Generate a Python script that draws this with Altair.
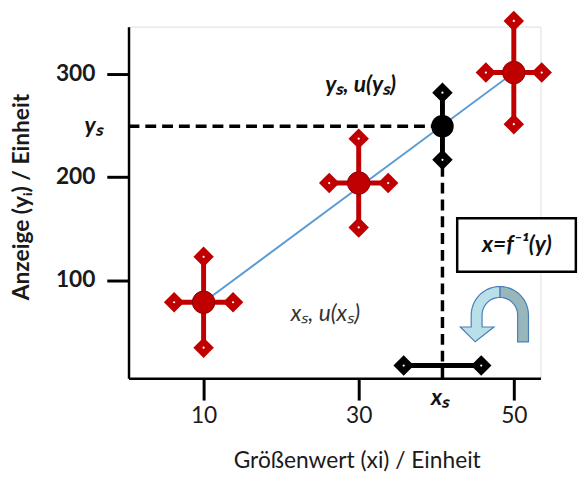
import math
import altair as alt
import pandas as pd

# ---------------- data ----------------
cal_x = [10, 30, 50]
cal_y = [78.5, 194, 301]
cal_xerr = [3.8, 3.8, 3.6]
cal_yerr = [44, 43, 50]

line_x = [10, 50]
line_y = [78.5, 301]

sample_x = [40.8]
sample_y = [249]
sample_yerr = [32.5]
sample_xerr = [5.0]
sample_xbar_y = [17.2]

x_ticks = [10, 30, 50]
y_ticks = [100, 200, 300]
x_domain = [0.32, 53.44]
y_domain = [4.8, 345.5]

# annotation texts and anchor positions (data units)
ann_text = ["yₛ, u(yₛ)", "xₛ, u(xₛ)", "x=f⁻¹(y)", "yₛ", "xₛ"]
ann_x = [30.25, 25.7, 50.4, -3.0, 40.5]
ann_y = [289, 67, 134, 249, -14.4]
box_x = [42.7, 58.0]
box_y = [108.1, 159.8]
arrow_pos = [48.2, 66]

RED = "#c00000"
FONT = "Lato"

xs = alt.Scale(domain=x_domain, nice=False, zero=False)
ys = alt.Scale(domain=y_domain, nice=False, zero=False)

x_axis = alt.Axis(values=x_ticks, title="Größenwert (xi) / Einheit", grid=False,
                  domainColor="black", domainWidth=2.5, tickColor="black", tickWidth=3,
                  tickSize=22, labelFont=FONT, labelFontSize=23, labelColor="#1a1a1a",
                  labelPadding=5, titleFont=FONT, titleFontSize=23, titleFontWeight="normal",
                  titleColor="#1a1a1a", titleX=231, titleY=90, titleBaseline="alphabetic",
                  titleAlign="center")
y_axis = alt.Axis(values=y_ticks, title="Anzeige (yᵢ) / Einheit", grid=False,
                  domainColor="black", domainWidth=2.5, tickColor="black", tickWidth=3,
                  tickSize=22, labelFont=FONT, labelFontSize=23, labelFontWeight="bold",
                  labelColor="#1a1a1a", labelPadding=12, titleFont=FONT, titleFontSize=23,
                  titleFontWeight="bold", titleColor="#1a1a1a", titleAngle=270,
                  titleX=-108, titleY=172, titleAlign="center", titleBaseline="middle")

# ---------------- tables ----------------
cal = pd.DataFrame({"x": cal_x, "y": cal_y, "xe": cal_xerr, "ye": cal_yerr})
cal["xlo"] = cal.x - cal.xe
cal["xhi"] = cal.x + cal.xe
cal["ylo"] = cal.y - cal.ye
cal["yhi"] = cal.y + cal.ye

ends = []
for _, r in cal.iterrows():
    ends += [{"x": r.x, "y": r.ylo}, {"x": r.x, "y": r.yhi},
             {"x": r.xlo, "y": r.y}, {"x": r.xhi, "y": r.y}]
ends = pd.DataFrame(ends)

smp = pd.DataFrame({"x": sample_x, "y": sample_y, "ye": sample_yerr,
                    "xe": sample_xerr, "by": sample_xbar_y})
smp["ylo"] = smp.y - smp.ye
smp["yhi"] = smp.y + smp.ye
smp["xlo"] = smp.x - smp.xe
smp["xhi"] = smp.x + smp.xe
smp["x0"] = x_domain[0]
smp["y0"] = y_domain[0]

s_ends = []
for _, r in smp.iterrows():
    s_ends += [{"x": r.x, "y": r.ylo}, {"x": r.x, "y": r.yhi},
               {"x": r.xlo, "y": r.by}, {"x": r.xhi, "y": r.by}]
s_ends = pd.DataFrame(s_ends)

line_df = pd.DataFrame({"x": line_x, "y": line_y})
ann = pd.DataFrame({"t": ann_text, "x": ann_x, "y": ann_y})
box = pd.DataFrame({"x": [box_x[0]], "x2": [box_x[1]], "y": [box_y[0]], "y2": [box_y[1]]})

X = lambda f="x": alt.X(f"{f}:Q", scale=xs, axis=x_axis)
Y = lambda f="y": alt.Y(f"{f}:Q", scale=ys, axis=y_axis)

# ---------------- layers ----------------
blue = alt.Chart(line_df).mark_line(color="#5b9bd5", strokeWidth=2).encode(x=X(), y=Y())

dash_h = alt.Chart(smp).mark_rule(color="black", strokeWidth=3.5, strokeDash=[11, 6]).encode(
    x=alt.X("x0:Q", scale=xs), x2="x:Q", y=alt.Y("y:Q", scale=ys))
dash_v = alt.Chart(smp).mark_rule(color="black", strokeWidth=3.5, strokeDash=[11, 6]).encode(
    x=alt.X("x:Q", scale=xs), y=alt.Y("y0:Q", scale=ys), y2="y:Q")

cal_v = alt.Chart(cal).mark_rule(color=RED, strokeWidth=5).encode(
    x=alt.X("x:Q", scale=xs), y=alt.Y("ylo:Q", scale=ys), y2="yhi:Q")
cal_h = alt.Chart(cal).mark_rule(color=RED, strokeWidth=5).encode(
    x=alt.X("xlo:Q", scale=xs), x2="xhi:Q", y=alt.Y("y:Q", scale=ys))
cal_d = alt.Chart(ends).mark_point(shape="diamond", filled=True, fill=RED, stroke=RED, strokeWidth=2,
                                   size=320, opacity=1).encode(
    x=alt.X("x:Q", scale=xs), y=alt.Y("y:Q", scale=ys))
cal_w = alt.Chart(ends).mark_point(shape="circle", filled=True, fill="white", size=5, opacity=1).encode(
    x=alt.X("x:Q", scale=xs), y=alt.Y("y:Q", scale=ys))
cal_p = alt.Chart(cal).mark_point(shape="circle", filled=True, fill=RED, size=520, opacity=1,
                                  stroke="#8a0000", strokeWidth=1).encode(
    x=alt.X("x:Q", scale=xs), y=alt.Y("y:Q", scale=ys))

s_v = alt.Chart(smp).mark_rule(color="black", strokeWidth=5).encode(
    x=alt.X("x:Q", scale=xs), y=alt.Y("ylo:Q", scale=ys), y2="yhi:Q")
s_h = alt.Chart(smp).mark_rule(color="black", strokeWidth=5).encode(
    x=alt.X("xlo:Q", scale=xs), x2="xhi:Q", y=alt.Y("by:Q", scale=ys))
s_d = alt.Chart(s_ends).mark_point(shape="diamond", filled=True, fill="black", stroke="black", strokeWidth=2,
                                   size=320, opacity=1).encode(
    x=alt.X("x:Q", scale=xs), y=alt.Y("y:Q", scale=ys))
s_w = alt.Chart(s_ends).mark_point(shape="circle", filled=True, fill="white", size=5, opacity=1).encode(
    x=alt.X("x:Q", scale=xs), y=alt.Y("y:Q", scale=ys))
s_p = alt.Chart(smp).mark_point(shape="circle", filled=True, fill="black", size=520, opacity=1).encode(
    x=alt.X("x:Q", scale=xs), y=alt.Y("y:Q", scale=ys))

box_l = alt.Chart(box).mark_rect(fill="white", stroke="black", strokeWidth=2.5).encode(
    x=alt.X("x:Q", scale=xs), x2="x2:Q", y=alt.Y("y:Q", scale=ys), y2="y2:Q")

def txt(i, color="#111", **kw):
    return alt.Chart(ann.iloc[[i]]).mark_text(font=FONT, color=color, **kw).encode(
        x=alt.X("x:Q", scale=xs), y=alt.Y("y:Q", scale=ys), text="t:N")

t_ys = txt(0, fontSize=23, fontWeight="bold", fontStyle="italic")
t_xs = txt(1, fontSize=23, fontStyle="italic", color="#333")
t_f = txt(2, fontSize=23, fontWeight="bold", fontStyle="italic")
t_ylab = txt(3, fontSize=23, fontWeight="bold", fontStyle="italic", align="right")
t_xlab = txt(4, fontSize=23, fontWeight="bold", fontStyle="italic")

# ---------------- curved arrow (shape geometry in local pixels) ----------------
R = 36.0
def arc(r, a0, a1, n=14):
    return [(r * math.cos(math.radians(a0 + (a1 - a0) * k / n)),
             -r * math.sin(math.radians(a0 + (a1 - a0) * k / n))) for k in range(n + 1)]

def to_path(pts):
    s = "M " + " L ".join(f"{px / R:.4f} {py / R:.4f}" for px, py in pts) + " Z"
    return s

ro, ri = 29, 18
left_pts = arc(ro, 90, 180) + [(-29, 12), (-40, 12), (-25, 27), (-6, 12), (-18, 12)] + arc(ri, 180, 90)
right_pts = arc(ro, 90, 0) + [(29, 27), (18, 27)] + arc(ri, 0, 90)
arrow_df = pd.DataFrame({"x": [arrow_pos[0]], "y": [arrow_pos[1]]})
arr_r = alt.Chart(arrow_df).mark_point(shape=to_path(right_pts), filled=True, fill="#97b7bb",
                                       stroke="#4a7ebb", strokeWidth=1.2, size=(2 * R) ** 2, opacity=1).encode(
    x=alt.X("x:Q", scale=xs), y=alt.Y("y:Q", scale=ys))
arr_l = alt.Chart(arrow_df).mark_point(shape=to_path(left_pts), filled=True, fill="#b9dfe9",
                                       stroke="#4a7ebb", strokeWidth=1.2, size=(2 * R) ** 2, opacity=1).encode(
    x=alt.X("x:Q", scale=xs), y=alt.Y("y:Q", scale=ys))

chart = alt.layer(
    blue, dash_h, dash_v,
    cal_v, cal_h, cal_d, cal_w, cal_p,
    s_v, s_h, s_d, s_w, s_p,
    box_l, t_ys, t_xs, t_f, t_ylab, t_xlab,
    arr_r, arr_l,
).properties(
    width=417, height=356,
    autosize=alt.AutoSizeParams(type="none"),
    padding={"left": 122, "top": 16, "right": 40, "bottom": 96},
).configure_view(stroke=None).configure(background="white")

chart.save("out.html", embed_options={"renderer": "svg", "actions": False})
